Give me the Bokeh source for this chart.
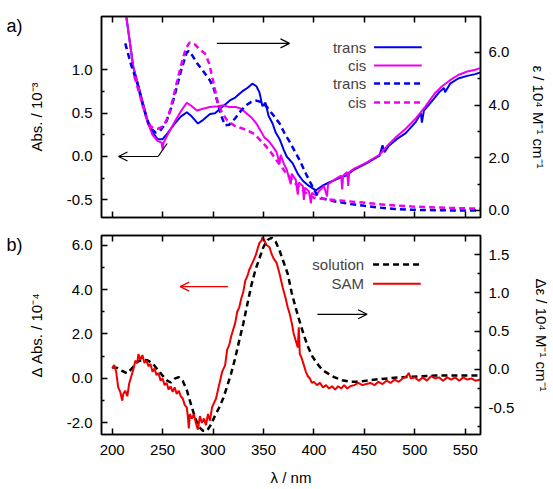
from bokeh.plotting import figure
from bokeh.models import (Range1d, LinearAxis, FixedTicker, PrintfTickFormatter,
                          CustomJSTickFormatter, Arrow, OpenHead, Label)
from bokeh.layouts import column
from bokeh.embed import file_html
from bokeh.resources import INLINE

# ---------------- data ----------------
# panel a) solid: absorbance of SAM (left axis, 10^-3)
trans_abs_nm = [210, 214, 221, 228, 235, 240, 245, 250, 255, 262, 268, 274, 279, 285, 290, 297, 302,
                307, 312, 317, 322, 326, 330, 334, 339, 343, 346, 349, 352, 355, 359, 362, 366, 370,
                373, 379, 384, 389, 395, 402, 408, 415, 425, 432, 440, 452, 465, 468, 470, 474, 482,
                491, 501, 506, 507, 509, 517, 524, 529, 530, 535, 543, 552, 560, 565]
trans_abs = [1.90, 1.615, 1.03, 0.73, 0.42, 0.28, 0.20, 0.20, 0.27, 0.38, 0.46, 0.51, 0.46, 0.38, 0.42,
             0.49, 0.50, 0.55, 0.60, 0.65, 0.68, 0.72, 0.76, 0.79, 0.84, 0.81, 0.74, 0.58, 0.62, 0.47,
             0.38, 0.28, 0.20, 0.08, 0.0, -0.08, -0.20, -0.28, -0.34, -0.39, -0.34, -0.30, -0.25,
             -0.22, -0.15, -0.08, 0.01, 0.13, 0.05, 0.12, 0.20, 0.27, 0.40, 0.50, 0.39, 0.53, 0.64,
             0.74, 0.79, 0.74, 0.84, 0.90, 0.93, 0.95, 0.97]
cis_abs_nm = [210, 214, 221, 228, 235, 240, 245, 249, 250, 251, 255, 262, 268, 274, 279, 284, 290, 297,
              305, 310, 316, 323, 328, 333, 338, 343, 347, 351, 355, 359, 363, 366, 367, 370, 373, 377,
              378, 382, 384, 385, 389, 390, 391, 395, 397, 398, 402, 405, 410, 413, 414, 420, 427, 428,
              429, 433, 434, 435, 440, 452, 465, 474, 482, 491, 501, 510, 520, 527, 535, 543, 552, 560, 565]
cis_abs = [1.90, 1.615, 1.03, 0.72, 0.40, 0.25, 0.18, 0.16, 0.08, 0.16, 0.25, 0.40, 0.52, 0.62, 0.58,
           0.53, 0.55, 0.57, 0.58, 0.59, 0.57, 0.57, 0.55, 0.50, 0.45, 0.38, 0.30, 0.22, 0.18, 0.12,
           0.05, -0.08, 0.02, -0.08, -0.15, -0.32, -0.20, -0.27, -0.44, -0.30, -0.34, -0.50, -0.36,
           -0.40, -0.54, -0.42, -0.45, -0.40, -0.34, -0.46, -0.32, -0.27, -0.22, -0.38, -0.22, -0.18,
           -0.34, -0.18, -0.14, -0.07, 0.02, 0.14, 0.23, 0.32, 0.44, 0.57, 0.73, 0.81, 0.88, 0.94,
           0.98, 1.00, 1.02]
# panel a) dashed: molar absorptivity in solution (right axis, 10^4 M^-1 cm^-1)
trans_eps_nm = [213, 219, 225, 231, 236, 240, 243, 247, 251, 254, 259, 264, 269, 274, 276, 280, 284, 290,
                297, 301, 304, 308, 312, 316, 322, 328, 333, 338, 343, 349, 354, 360, 366, 371, 376, 381,
                386, 392, 399, 403, 408, 420, 432, 450, 465, 480, 497, 520, 540, 565]
trans_eps = [6.34, 5.5, 4.82, 3.9, 3.3, 3.05, 2.96, 3.0, 3.2, 3.4, 3.95, 4.67, 5.4, 6.0, 6.05, 5.85, 5.6,
             5.3, 4.93, 4.6, 4.17, 3.6, 3.23, 3.25, 3.5, 3.8, 4.0, 4.12, 4.17, 4.1, 3.9, 3.6, 3.3, 2.92,
             2.6, 2.25, 1.9, 1.4, 0.87, 0.6, 0.46, 0.35, 0.27, 0.18, 0.11, 0.06, 0.03, 0.01, 0.0, 0.0]
cis_eps_nm = [222, 228, 234, 238, 241, 245, 251, 256, 260, 265, 269, 273, 277, 282, 287, 292, 296, 300,
              305, 309, 314, 322, 330, 336, 341, 346, 351, 356, 364, 373, 381, 389, 396, 402, 408, 420,
              448, 470, 497, 530, 565]
cis_eps = [5.1, 4.3, 3.5, 3.2, 3.12, 3.1, 3.2, 3.6, 4.2, 5.0, 5.6, 6.15, 6.38, 6.3, 6.1, 5.96, 5.6, 4.93,
           4.06, 3.7, 3.42, 3.2, 3.1, 3.0, 2.9, 2.7, 2.5, 2.28, 1.85, 1.4, 1.05, 0.76, 0.55, 0.45, 0.45,
           0.40, 0.30, 0.22, 0.15, 0.10, 0.07]

# panel b) SAM difference absorbance (left axis, 10^-4)
sam_nm = [200, 202, 204, 206, 208, 210, 211, 213, 215, 217, 219, 221, 223, 225, 226, 228, 230, 232, 234,
          236, 238, 240, 242, 244, 246, 248, 250, 252, 254, 256, 258, 260, 262, 264, 266, 268, 270, 272,
          274, 275, 276, 277, 279, 281, 283, 285, 287, 289, 291, 293, 295, 297, 299, 301, 303, 305, 307,
          309, 312, 314, 316, 318, 320, 322, 324, 326, 328, 330, 332, 334, 336, 338, 340, 342, 344, 346,
          348, 349, 351, 353, 356, 358, 360, 363, 366, 369, 372, 374, 376, 378, 380, 382, 384, 385, 386,
          388, 390, 392, 394, 396, 398, 400, 403, 406, 409, 412, 415, 418, 421, 424, 427, 430, 433, 436,
          440, 444, 448, 452, 456, 460, 464, 468, 472, 476, 480, 484, 488, 492, 494, 496, 500, 504, 508,
          512, 516, 520, 524, 528, 532, 536, 540, 544, 548, 552, 556, 560, 565]
sam_dabs = [0.45, 0.6, 0.3, -0.4, -0.6, -1.0, -0.7, -0.55, -0.8, -0.2, 0.1, 0.4, 0.8, 0.7, 1.1, 0.85,
            1.05, 0.7, 0.8, 0.55, 0.65, 0.3, 0.45, 0.15, 0.25, -0.1, 0.0, -0.3, -0.2, -0.5, -0.35, -0.6,
            -0.4, -0.7, -0.55, -0.8, -0.9, -1.2, -1.3, -1.7, -2.25, -1.6, -1.8, -1.6, -2.0, -2.3, -1.7,
            -2.0, -1.8, -2.1, -1.6, -1.9, -1.3, -1.1, -0.9, -0.5, -0.1, 0.3, 0.6, 1.3, 1.5, 1.9, 2.2,
            2.5, 3.0, 3.2, 3.6, 3.9, 4.4, 4.6, 4.9, 5.1, 5.3, 5.5, 5.8, 6.1, 6.2, 6.35, 6.2, 6.0, 5.9,
            5.6, 5.4, 5.2, 4.7, 4.1, 3.6, 3.2, 2.9, 2.5, 2.0, 1.7, 1.4, 2.3, 1.1, 0.9, 0.6, 0.3, 0.1,
            0.0, -0.2, -0.15, -0.3, -0.2, -0.4, -0.3, -0.45, -0.35, -0.5, -0.35, -0.45, -0.3, -0.45,
            -0.35, -0.3, -0.2, -0.3, -0.25, -0.2, -0.3, -0.15, -0.25, -0.1, -0.2, -0.05, -0.15, 0.0,
            0.1, 0.25, 0.0, 0.05, -0.1, 0.05, -0.1, 0.1, 0.0, 0.05, -0.1, 0.05, -0.05, 0.05, -0.1,
            0.05, -0.05, 0.0, -0.1, -0.05]
# panel b) solution difference molar absorptivity (right axis)
sol_nm = [200, 205, 210, 215, 220, 225, 230, 235, 240, 245, 250, 255, 258, 262, 266, 270, 274, 278, 282,
          286, 290, 294, 298, 302, 306, 310, 314, 318, 322, 326, 330, 334, 338, 342, 346, 350, 354, 358,
          362, 366, 370, 374, 378, 382, 386, 390, 394, 398, 402, 406, 410, 415, 420, 428, 436, 445, 455,
          470, 488, 505, 521, 540, 565]
sol_deps = [0.03, 0.02, -0.02, -0.05, 0.02, 0.1, 0.13, 0.12, 0.08, 0.0, -0.08, -0.15, -0.17, -0.12,
            -0.1, -0.15, -0.27, -0.45, -0.62, -0.75, -0.8, -0.8, -0.72, -0.6, -0.5, -0.38, -0.22,
            -0.05, 0.15, 0.38, 0.6, 0.85, 1.1, 1.3, 1.45, 1.6, 1.69, 1.72, 1.67, 1.55, 1.4, 1.25, 1.0,
            0.8, 0.62, 0.45, 0.3, 0.18, 0.1, 0.03, -0.02, -0.06, -0.1, -0.14, -0.16, -0.16, -0.14,
            -0.12, -0.1, -0.09, -0.08, -0.08, -0.08]

x_ticks = [200, 250, 300, 350, 400, 450, 500, 550]
a_left_ticks, a_left_minor = [-0.5, 0.0, 0.5, 1.0], [-0.25, 0.25, 0.75]
a_right_ticks, a_right_minor = [0, 2, 4, 6], [1, 3, 5]
b_left_ticks, b_left_minor = [-2, 0, 2, 4, 6], [-1, 1, 3, 5]
b_right_ticks, b_right_minor = [-0.5, 0.0, 0.5, 1.0, 1.5], [-0.75, -0.25, 0.25, 0.75, 1.25]

legend_a = ["trans", "cis", "trans", "cis"]
legend_b = ["solution", "SAM"]

# ---------------- style ----------------
FONT = "Liberation Sans"
FS = "15px"
BLUE = "#0000ee"
MAG = "#ee00ee"
RED = "#ee0000"
BLACK = "#000000"
XR = (189.45, 565.1)
W = 553


def style_axis(ax, ticks, minor, labels=True, standoff=8, label_standoff=15, fmt="%.1f"):
    ax.ticker = FixedTicker(ticks=ticks, minor_ticks=minor)
    ax.major_tick_in = 6
    ax.major_tick_out = 0
    ax.minor_tick_in = 3
    ax.minor_tick_out = 0
    ax.major_tick_line_width = 1.5
    ax.minor_tick_line_width = 1.5
    ax.axis_line_width = 1.5
    ax.axis_line_color = "black"
    ax.major_label_text_font = FONT
    ax.major_label_text_font_size = FS
    ax.major_label_text_color = "black"
    ax.major_label_standoff = standoff
    ax.axis_label_text_font = FONT
    ax.axis_label_text_font_size = FS
    ax.axis_label_text_font_style = "normal"
    ax.axis_label_text_color = "black"
    ax.axis_label_standoff = label_standoff
    if labels:
        ax.formatter = PrintfTickFormatter(format=fmt)
    else:
        ax.formatter = CustomJSTickFormatter(code="return ''")
        ax.major_label_text_font_size = "0px"
        ax.major_label_standoff = 0


def make_fig(height, yr, yr2, top, bottom):
    p = figure(width=W, height=height, x_range=Range1d(*XR), y_range=Range1d(*yr),
               output_backend="svg", toolbar_location=None,
               min_border_left=101, min_border_right=71, min_border_top=top,
               min_border_bottom=bottom)
    p.extra_y_ranges = {"r": Range1d(*yr2)}
    p.xgrid.grid_line_color = None
    p.ygrid.grid_line_color = None
    p.outline_line_color = "black"
    p.outline_line_width = 1.5
    p.background_fill_color = "white"
    p.border_fill_color = "white"
    bottom_ax = p.below[0]
    left_ax = p.left[0]
    top_ax = LinearAxis()
    style_axis(top_ax, x_ticks, [], labels=False)
    p.add_layout(top_ax, "above")
    return p, bottom_ax, left_ax


def panel_label(p, text, y):
    # panel tag written as the single tick label of an outer, line-less left axis
    ax = LinearAxis(ticker=FixedTicker(ticks=[y], minor_ticks=[]),
                    formatter=CustomJSTickFormatter(code="return %r" % text))
    ax.axis_line_color = None
    ax.major_tick_line_color = None
    ax.minor_tick_line_color = None
    ax.major_tick_out = 0
    ax.major_tick_in = 0
    ax.major_label_standoff = 2
    ax.major_label_text_font = FONT
    ax.major_label_text_font_size = "18px"
    ax.major_label_text_color = "black"
    p.add_layout(ax, "left")


# ---------------- panel a ----------------
p1, p1_bottom, p1_left = make_fig(226, (-0.704, 1.615), (-0.266, 7.36), 16, 9)
style_axis(p1_bottom, x_ticks, [], labels=False)
style_axis(p1_left, a_left_ticks, a_left_minor, standoff=9, label_standoff=19)
p1_left.axis_label = "Abs. / 10⁻³"
ra = LinearAxis(y_range_name="r", axis_label="ε / 10⁴ M⁻¹ cm⁻¹")
style_axis(ra, a_right_ticks, a_right_minor, standoff=8, label_standoff=18)
p1.add_layout(ra, "right")
panel_label(p1, "a)", 1.511)

p1.line(trans_abs_nm, trans_abs, color=BLUE, line_width=2)
p1.line(cis_abs_nm, cis_abs, color=MAG, line_width=2)
p1.line(trans_eps_nm, trans_eps, color=BLUE, line_width=2.5, line_dash="6 4", y_range_name="r")
p1.line(cis_eps_nm, cis_eps, color=MAG, line_width=2.5, line_dash="6 4", y_range_name="r")

# legend of panel a (label, then sample line)
leg_a_y = [6.19, 5.50, 4.82, 4.10]
leg_a_styles = [(BLUE, None), (MAG, None), (BLUE, "6 4"), (MAG, "6 4")]
for txt, yy, (c, d) in zip(legend_a, leg_a_y, leg_a_styles):
    p1.add_layout(Label(x=451.9, y=yy, text=txt, text_align="right", text_baseline="middle",
                        text_font=FONT, text_font_size=FS, y_range_name="r"))
    kw = dict(line_dash=d) if d else {}
    p1.line([459.6, 506.9], [yy, yy], color=c, line_width=2.5 if d else 2, y_range_name="r", **kw)

# arrows of panel a
p1.add_layout(Arrow(end=OpenHead(size=9, line_width=1.2), x_start=303.8, y_start=6.34,
                    x_end=375.8, y_end=6.34, line_width=1.2, y_range_name="r"))
p1.line([254.5, 245.6], [0.15, 0.0], color=BLACK, line_width=1.2)
p1.add_layout(Arrow(end=OpenHead(size=9, line_width=1.2), x_start=245.6, y_start=0.0,
                    x_end=206.3, y_end=0.0, line_width=1.2))

# ---------------- panel b ----------------
p2, p2_bottom, p2_left = make_fig(263, (-2.52, 6.43), (-0.849, 1.749), 9, 55)
style_axis(p2_bottom, x_ticks, [], labels=True, standoff=10, label_standoff=11, fmt="%d")
p2_bottom.axis_label = "λ / nm"
style_axis(p2_left, b_left_ticks, b_left_minor, standoff=9, label_standoff=19)
p2_left.axis_label = "Δ Abs. / 10⁻⁴"
rb = LinearAxis(y_range_name="r", axis_label="Δε / 10⁴ M⁻¹ cm⁻¹")
style_axis(rb, b_right_ticks, b_right_minor, standoff=8, label_standoff=16)
p2.add_layout(rb, "right")
panel_label(p2, "b)", 6.02)

p2.line(sol_nm, sol_deps, color=BLACK, line_width=2.5, line_dash="6 4", y_range_name="r")
p2.line(sam_nm, sam_dabs, color=RED, line_width=2)

leg_b_y = [1.37, 1.12]
leg_b_styles = [(BLACK, "6 4"), (RED, None)]
for txt, yy, (c, d) in zip(legend_b, leg_b_y, leg_b_styles):
    p2.add_layout(Label(x=449.7, y=yy, text=txt, text_align="right", text_baseline="middle",
                        text_font=FONT, text_font_size=FS, y_range_name="r"))
    kw = dict(line_dash=d) if d else {}
    p2.line([458.6, 505.9], [yy, yy], color=c, line_width=2.5 if d else 2, y_range_name="r", **kw)

p2.add_layout(Arrow(end=OpenHead(size=9, line_width=1.2, line_color=RED), x_start=314.8, y_start=4.13,
                    x_end=267.4, y_end=4.13, line_width=1.2, line_color=RED))
p2.add_layout(Arrow(end=OpenHead(size=9, line_width=1.2), x_start=403.4, y_start=0.72,
                    x_end=452.7, y_end=0.72, line_width=1.2, y_range_name="r"))

layout = column(p1, p2)
open("out.html", "w").write(file_html(layout, INLINE))
